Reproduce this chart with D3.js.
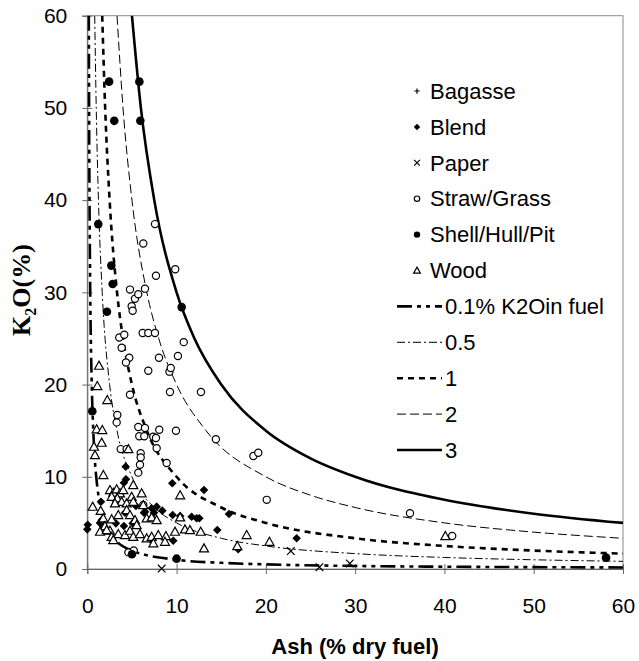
<!DOCTYPE html>
<html>
<head>
<meta charset="utf-8">
<script src="https://cdn.jsdelivr.net/npm/d3@7"></script>
<style>
  body { margin: 0; background: #fff; }
  svg { display: block; }
</style>
</head>
<body>
<div id="chart"></div>
<script>
// axis ticks
const xTicks = [0, 10, 20, 30, 40, 50, 60];
const yTicks = [0, 10, 20, 30, 40, 50, 60];

// measured fuels, [ash %, K2O %]
const bagasse = [];
const blend = [
  [0.05, 4.8], [0, 4.3], [4.3, 11.1], [4.33, 9.73], [4.1, 9.36], [1.53, 7.3],
  [1.42, 5.0], [1.8, 4.6], [1.6, 5.3], [3.2, 4.95], [4.1, 4.66], [4.22, 6.1],
  [5.45, 6.83], [5.08, 4.95], [6.35, 6.1], [6.46, 6.2], [7.2, 6.58], [7.47, 6.1],
  [7.77, 6.76], [8.4, 6.33], [9.52, 9.3], [9.56, 5.86], [9.63, 3.07], [7.02, 3.22],
  [13.07, 8.57], [11.69, 5.67], [12.25, 5.5], [12.55, 5.5], [14.56, 4.23],
  [15.87, 5.97], [16.9, 2.14], [23.45, 3.33], [10.4, 5.75]
];
const paper = [[8.33, 0.05], [22.8, 1.95], [26.0, 0.2], [29.4, 0.6]];
const straw = [
  [7.58, 37.4], [6.27, 35.3], [7.69, 31.8], [9.85, 32.5], [4.78, 30.3], [5.34, 29.3],
  [5.71, 29.8], [6.46, 30.4], [4.97, 28.5], [5.08, 28.0],
  [3.58, 25.1], [4.14, 25.4], [6.2, 25.6], [6.83, 25.6], [7.58, 25.6],
  [3.85, 24.0], [4.7, 22.9], [4.33, 22.4], [8.03, 22.9], [10.15, 23.1], [10.8, 24.6],
  [6.83, 21.5], [9.2, 21.4], [9.35, 21.8], [9.26, 19.2], [12.73, 19.2], [4.78, 18.9],
  [3.36, 16.7], [3.29, 15.9], [5.71, 15.4], [6.46, 15.3], [5.82, 14.4], [6.38, 14.4],
  [7.39, 14.35], [8.06, 15.1], [7.69, 14.2], [9.93, 15.0], [14.4, 14.07],
  [3.74, 13.0], [4.41, 13.0], [5.98, 12.55], [5.98, 12.1], [5.9, 11.3], [5.71, 10.45],
  [7.77, 13.1], [8.89, 11.5], [18.6, 12.25], [19.15, 12.6], [20.1, 7.5], [6.27, 6.94],
  [5.2, 2.0], [4.6, 1.8], [36.14, 6.04], [40.87, 3.58]
];
const shell = [
  [2.44, 52.85], [5.83, 52.85], [3.02, 48.6], [5.94, 48.6], [1.23, 37.4], [2.69, 32.9],
  [2.84, 30.9], [2.2, 27.9], [10.57, 28.4], [0.56, 17.1], [5.0, 1.6], [10.0, 1.12],
  [58.1, 1.23]
];
const wood = [
  [1.31, 22.05], [1.12, 19.85], [2.24, 18.33], [1.05, 15.15], [1.68, 15.08], [1.61, 13.7],
  [0.75, 13.27], [0.86, 12.36], [1.8, 10.2], [4.6, 13.0],
  [2.54, 8.57], [2.91, 8.28], [3.29, 8.64], [3.66, 8.21], [4.03, 8.57], [2.73, 7.84],
  [3.36, 7.67], [3.85, 7.3], [3.1, 7.13], [4.41, 7.13], [4.97, 7.84], [5.15, 7.3],
  [5.15, 9.1], [6.09, 8.21], [6.27, 6.94], [0.6, 6.76], [1.5, 6.32], [1.79, 5.5],
  [2.73, 5.39], [3.47, 5.86], [4.41, 6.4], [4.78, 5.86], [5.34, 5.31], [5.53, 4.77],
  [6.65, 5.5], [7.21, 5.6], [7.77, 5.31], [1.98, 4.66], [2.54, 4.16], [3.47, 3.8],
  [4.22, 3.69], [4.78, 4.16], [5.15, 3.5], [5.9, 3.8], [6.65, 3.33], [7.21, 3.5],
  [7.95, 3.69], [8.81, 3.58], [9.82, 4.05], [8.7, 2.96], [2.73, 3.5], [2.91, 3.15],
  [7.4, 2.79], [1.42, 4.05], [2.17, 4.23],
  [10.4, 8.0], [10.4, 5.6], [10.94, 4.3], [11.5, 4.23], [12.7, 4.05], [13.07, 2.24],
  [17.85, 3.69], [16.8, 2.49], [20.4, 2.96], [40.1, 3.58]
];

// iso-lines of K2O in fuel, [ash %, K2O %]
const iso01 = [[0.17, 60], [0.2, 50], [0.25, 40], [0.33, 30], [0.5, 20], [0.67, 15], [1, 10],
  [2, 5], [3, 3.33], [5, 2], [10, 1], [15, 0.67], [20, 0.5], [30, 0.33], [40, 0.25], [60, 0.17]];
const iso05 = [[0.83, 60], [1, 50], [1.25, 40], [1.67, 30], [2.5, 20], [3.33, 15], [5, 10],
  [7.5, 6.67], [10, 5], [15, 3.33], [20, 2.5], [30, 1.67], [40, 1.25], [50, 1], [60, 0.83]];
const iso1 = [[1.67, 60], [2, 50], [2.5, 40], [3.33, 30], [4, 25], [5, 20], [6.67, 15], [10, 10],
  [15, 6.67], [20, 5], [30, 3.33], [40, 2.5], [50, 2], [60, 1.67]];
const iso2 = [[3.33, 60], [4, 50], [5, 40], [6.67, 30], [8, 25], [10, 20], [13.3, 15], [20, 10],
  [25, 8], [30, 6.67], [40, 5], [50, 4], [60, 3.33]];
const iso3 = [[5, 60], [6, 50], [7.5, 40], [10, 30], [12, 25], [15, 20], [20, 15], [25, 12],
  [30, 10], [40, 7.5], [50, 6], [60, 5]];

const W = 639, H = 661;
const pLeft = 87.3, pRight = 623, pTop = 15.7, pBottom = 569;

const svg = d3.select("#chart").append("svg")
    .attr("width", W)
    .attr("height", H)
    .style("font-family", "'Liberation Sans', Arial, sans-serif");

const x = d3.scaleLinear().domain([0, 60]).range([pLeft, pRight]);
const y = d3.scaleLinear().domain([0, 60]).range([pBottom, pTop]);

svg.append("defs").append("clipPath").attr("id", "plotClip")
  .append("rect")
    .attr("x", pLeft).attr("y", pTop)
    .attr("width", pRight - pLeft).attr("height", pBottom - pTop);

// frame
svg.append("rect")
    .attr("x", pLeft).attr("y", pTop)
    .attr("width", pRight - pLeft).attr("height", pBottom - pTop)
    .attr("fill", "none")
    .attr("stroke", "#8a8a8a")
    .attr("stroke-width", 1);

// axes
const gx = svg.append("g")
    .attr("transform", "translate(0," + pBottom + ")")
    .call(d3.axisBottom(x).tickValues(xTicks).tickSizeOuter(0).tickSize(5));
const gy = svg.append("g")
    .attr("transform", "translate(" + pLeft + ",0)")
    .call(d3.axisLeft(y).tickValues(yTicks).tickSizeOuter(0).tickSize(5));

gx.select(".domain").attr("stroke", "#666");
gy.select(".domain").attr("stroke", "#666");
gx.selectAll(".tick line").attr("y1", -5).attr("y2", 5).attr("stroke", "#666");
gy.selectAll(".tick line").attr("x1", -5).attr("x2", 5).attr("stroke", "#666");
gx.selectAll(".tick text")
    .attr("y", 29)
    .attr("font-size", 21)
    .attr("font-family", "'Liberation Sans', Arial, sans-serif")
    .attr("fill", "#000");
gy.selectAll(".tick text")
    .attr("x", -20)
    .attr("font-size", 21)
    .attr("font-family", "'Liberation Sans', Arial, sans-serif")
    .attr("fill", "#000");

// axis titles
svg.append("text")
    .attr("x", 355).attr("y", 654)
    .attr("text-anchor", "middle")
    .attr("font-size", 22)
    .attr("font-weight", "bold")
    .text("Ash (% dry fuel)");

const yTitle = svg.append("text")
    .attr("transform", "translate(30,290) rotate(-90)")
    .attr("text-anchor", "middle")
    .attr("font-family", "'Liberation Serif', 'Times New Roman', serif")
    .attr("font-size", 26)
    .attr("font-weight", "bold");
yTitle.append("tspan").text("K");
yTitle.append("tspan").attr("font-size", 16).attr("dy", 6).text("2");
yTitle.append("tspan").attr("dy", -6).text("O(%)");

// line styles
const lineStyles = [
  {data: iso01, label: "0.1% K2Oin fuel", width: 2.6, dash: "15,5,4,5,4,5"},
  {data: iso05, label: "0.5", width: 1, dash: "8,3,2,3"},
  {data: iso1, label: "1", width: 2.6, dash: "6,5"},
  {data: iso2, label: "2", width: 1, dash: "9,4"},
  {data: iso3, label: "3", width: 2.6, dash: null}
];

const line = d3.line()
    .x(function(d) { return x(d[0]); })
    .y(function(d) { return y(d[1]); })
    .curve(d3.curveMonotoneX);

const plot = svg.append("g").attr("clip-path", "url(#plotClip)");

lineStyles.forEach(function(s) {
  plot.append("path")
      .datum(s.data)
      .attr("d", line)
      .attr("fill", "none")
      .attr("stroke", "#000")
      .attr("stroke-width", s.width)
      .attr("stroke-dasharray", s.dash);
});

// marker drawing
function drawMarker(g, type, cx, cy, k) {
  k = k || 1;
  if (type === "plus") {
    const r = 3.5 * k;
    g.append("path").attr("d", "M" + (cx - r) + "," + cy + "H" + (cx + r) + "M" + cx + "," + (cy - r) + "V" + (cy + r))
      .attr("stroke", "#000").attr("stroke-width", 1.2);
  } else if (type === "diamond") {
    const r = 4.3 * k;
    g.append("path").attr("d", "M" + cx + "," + (cy - r) + "L" + (cx + r) + "," + cy + "L" + cx + "," + (cy + r) + "L" + (cx - r) + "," + cy + "Z")
      .attr("fill", "#000");
  } else if (type === "cross") {
    const r = 3.8 * k;
    g.append("path").attr("d", "M" + (cx - r) + "," + (cy - r) + "L" + (cx + r) + "," + (cy + r) + "M" + (cx - r) + "," + (cy + r) + "L" + (cx + r) + "," + (cy - r))
      .attr("stroke", "#000").attr("stroke-width", 1.2);
  } else if (type === "open") {
    g.append("circle").attr("cx", cx).attr("cy", cy).attr("r", 3.6 * k)
      .attr("fill", "#fff").attr("stroke", "#000").attr("stroke-width", 1.2);
  } else if (type === "filled") {
    g.append("circle").attr("cx", cx).attr("cy", cy).attr("r", 4.3 * k)
      .attr("fill", "#000");
  } else if (type === "triangle") {
    const r = 4.5 * k;
    g.append("path").attr("d", "M" + cx + "," + (cy - r) + "L" + (cx + r) + "," + (cy + r * 0.8) + "L" + (cx - r) + "," + (cy + r * 0.8) + "Z")
      .attr("fill", "#fff").attr("stroke", "#000").attr("stroke-width", 1.2);
  }
}

const seriesList = [
  {data: bagasse, label: "Bagasse", type: "plus"},
  {data: blend, label: "Blend", type: "diamond"},
  {data: paper, label: "Paper", type: "cross"},
  {data: straw, label: "Straw/Grass", type: "open"},
  {data: shell, label: "Shell/Hull/Pit", type: "filled"},
  {data: wood, label: "Wood", type: "triangle"}
];

const pts = svg.append("g");
seriesList.forEach(function(s) {
  s.data.forEach(function(d) {
    drawMarker(pts, s.type, x(d[0]), y(d[1]), 1);
  });
});

// legend
const legend = svg.append("g");
const rowY0 = 91, rowStep = 35.9;
seriesList.forEach(function(s, i) {
  const cy = rowY0 + i * rowStep;
  drawMarker(legend, s.type, 417, cy, 0.75);
  legend.append("text")
      .attr("x", 430).attr("y", cy)
      .attr("dy", "0.35em")
      .attr("font-size", 22)
      .text(s.label);
});
lineStyles.forEach(function(s, i) {
  const cy = rowY0 + (i + seriesList.length) * rowStep;
  legend.append("line")
      .attr("x1", 397).attr("x2", 442)
      .attr("y1", cy).attr("y2", cy)
      .attr("stroke", "#000")
      .attr("stroke-width", s.width)
      .attr("stroke-dasharray", s.dash);
  legend.append("text")
      .attr("x", 445).attr("y", cy)
      .attr("dy", "0.35em")
      .attr("font-size", 22)
      .text(s.label);
});
</script>
</body>
</html>
